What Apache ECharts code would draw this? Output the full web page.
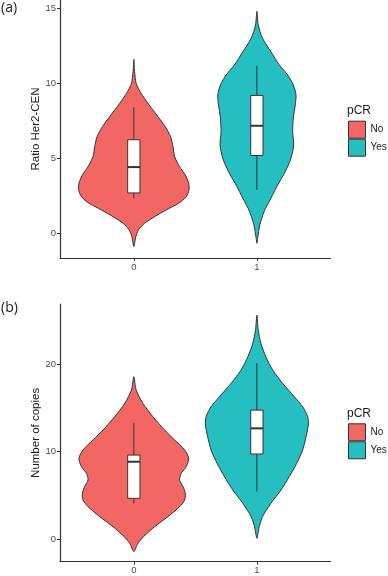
<!DOCTYPE html>
<html><head><meta charset="utf-8">
<script src="https://cdn.jsdelivr.net/npm/echarts@6/dist/echarts.min.js"></script>
<style>html,body{margin:0;padding:0;background:#fff}#c{width:388px;height:576px}</style>
</head><body><div id="c"></div>
<script>
// categories (x positions 1,2 shown as labels "0","1")
const categories = ['0', '1'];
const groups = ['No', 'Yes'];
const ticksA = [0, 5, 10, 15];
const ticksB = [0, 10, 20];

// violin profiles: [value, half-width in category units]
const violinA0 = [[-0.86,0],[-0.2,0.016],[0.25,0.038],[0.69,0.087],[1.13,0.169],[1.58,0.263],[2.02,0.364],[2.46,0.426],[2.9,0.448],[3.35,0.446],[3.9,0.418],[4.46,0.372],[5.12,0.332],[5.79,0.318],[6.45,0.299],[7.12,0.255],[7.79,0.196],[8.68,0.114],[9.34,0.059],[10.0,0.019],[10.8,0.006],[11.6,0]];
const violinA1 = [[-0.64,0],[-0.3,0.006],[0.58,0.024],[1.47,0.059],[2.36,0.114],[3.24,0.169],[4.13,0.231],[5.02,0.277],[5.9,0.299],[6.79,0.291],[7.68,0.296],[8.57,0.312],[9.23,0.318],[9.9,0.296],[10.56,0.25],[11.23,0.182],[12.11,0.114],[13.0,0.046],[13.89,0.011],[14.8,0]];
const violinB0 = [[-1.41,0],[-0.46,0.033],[0.3,0.079],[1.44,0.169],[2.58,0.277],[3.72,0.372],[4.48,0.413],[5.25,0.418],[6.0,0.4],[6.77,0.372],[7.53,0.385],[8.28,0.426],[9.24,0.446],[10.19,0.413],[11.33,0.332],[12.47,0.25],[13.99,0.155],[15.52,0.073],[17.03,0.019],[18.55,0]];
const violinB1 = [[0.11,0],[1.44,0.019],[2.58,0.046],[4.11,0.114],[5.62,0.196],[7.14,0.263],[8.67,0.324],[10.19,0.372],[11.71,0.4],[13.04,0.418],[13.99,0.413],[15.13,0.372],[16.27,0.304],[17.8,0.209],[19.32,0.128],[20.83,0.073],[22.36,0.033],[23.88,0.011],[25.59,0]];

// boxes: [x, whiskerLow, q1, median, q3, whiskerHigh]
const boxA0 = [1, 2.36, 2.71, 4.43, 6.25, 8.4];
const boxA1 = [2, 2.91, 5.2, 7.18, 9.2, 11.18];
const boxB0 = [1, 4.1, 4.67, 8.85, 9.61, 13.3];
const boxB1 = [2, 5.43, 9.73, 12.66, 14.74, 20.1];

const RED = '#F26763', TEAL = '#26BFC1', LINE = '#333333';
const BOXW = 0.05;

function violin(gi, center, prof, color, name) {
  return {
    type: 'custom', name, xAxisIndex: gi, yAxisIndex: gi,
    itemStyle: { color, borderColor: LINE, borderWidth: 1 },
    data: [[center, prof[0][0]]],
    z: 2,
    renderItem: function (params, api) {
      const right = prof.map(p => api.coord([center + p[1], p[0]]));
      const left = prof.slice(1, prof.length - 1).reverse().map(p => api.coord([center - p[1], p[0]]));
      return { type: 'polygon', shape: { points: right.concat(left), smooth: 0.25 },
        style: { fill: color, stroke: LINE, lineWidth: 1 } };
    }
  };
}
function box(gi, b) {
  return {
    type: 'custom', xAxisIndex: gi, yAxisIndex: gi, z: 3, silent: true,
    data: [b],
    renderItem: function (params, api) {
      const c = b[0];
      const p = (x, y) => api.coord([x, y]);
      const wl = p(c, b[1]), wh = p(c, b[5]);
      const q1l = p(c - BOXW, b[2]), q3r = p(c + BOXW, b[4]);
      const ml = p(c - BOXW, b[3]), mr = p(c + BOXW, b[3]);
      const q1c = p(c, b[2]), q3c = p(c, b[4]);
      return { type: 'group', children: [
        { type: 'line', shape: { x1: wl[0], y1: wl[1], x2: q1c[0], y2: q1c[1] }, style: { stroke: LINE, lineWidth: 1 } },
        { type: 'line', shape: { x1: q3c[0], y1: q3c[1], x2: wh[0], y2: wh[1] }, style: { stroke: LINE, lineWidth: 1 } },
        { type: 'rect', shape: { x: q1l[0], y: q3r[1], width: q3r[0] - q1l[0], height: q1l[1] - q3r[1] }, style: { fill: '#fff', stroke: LINE, lineWidth: 1 } },
        { type: 'line', shape: { x1: ml[0], y1: ml[1], x2: mr[0], y2: mr[1] }, style: { stroke: LINE, lineWidth: 2 } }
      ] };
    }
  };
}

const axisTick = { show: true, length: 3, lineStyle: { color: LINE } };
const tickLabel = { color: '#4d4d4d', fontSize: 9.5, fontFamily: 'Liberation Sans' };

function xAxis(gi) {
  return { type: 'value', gridIndex: gi, min: 0.4, max: 2.6, splitLine: { show: false },
    axisLine: { show: true, onZero: false, lineStyle: { color: LINE, width: 1.2 } },
    axisTick: Object.assign({ customValues: [1, 2] }, axisTick),
    axisLabel: Object.assign({ customValues: [1, 2], margin: 4, formatter: v => categories[Math.round(v) - 1] }, tickLabel) };
}
function yAxis(gi, min, max, ticks, name) {
  return { type: 'value', gridIndex: gi, min, max, splitLine: { show: false },
    axisLine: { show: true, onZero: false, lineStyle: { color: LINE, width: 1.2 } },
    axisTick: Object.assign({ customValues: ticks }, axisTick),
    axisLabel: Object.assign({ customValues: ticks, margin: 4 }, tickLabel),
    name, nameLocation: 'middle', nameGap: 18, nameMoveOverlap: false,
    nameTextStyle: { color: '#1a1a1a', fontSize: 11.5, fontFamily: 'Liberation Sans' } };
}

const chart = echarts.init(document.getElementById('c'), null, { renderer: 'canvas' });
chart.setOption({
  animation: false,
  grid: [
    { left: 60, right: 57.3, top: 0, bottom: 318 },
    { left: 60, right: 57.3, top: 304, bottom: 14.3 }
  ],
  xAxis: [xAxis(0), xAxis(1)],
  yAxis: [yAxis(0, -1.62, 15.55, ticksA, 'Ratio Her2-CEN'), yAxis(1, -2.56, 26.85, ticksB, 'Number of copies')],
  legend: [0, 1].map(i => ({
    data: groups, orient: 'vertical', left: 348, top: i === 0 ? 120.7 : 423.3, padding: 0,
    itemWidth: 17, itemHeight: 17, itemGap: 0, icon: 'rect', selectedMode: false,
    itemStyle: { borderColor: LINE, borderWidth: 1 },
    textStyle: { color: '#1a1a1a', fontSize: 10, fontFamily: 'Liberation Sans' }
  })),
  graphic: [
    { type: 'text', left: 1, top: 1, style: { text: '(a)', fontSize: 14, fill: '#1a1a2a', fontFamily: 'Open Sans' } },
    { type: 'text', left: 1, top: 301, style: { text: '(b)', fontSize: 14, fill: '#1a1a2a', fontFamily: 'Open Sans' } },
    { type: 'text', left: 347, top: 105, style: { text: 'pCR', fontSize: 12, fill: '#1a1a1a', fontFamily: 'Liberation Sans' } },
    { type: 'text', left: 347, top: 408, style: { text: 'pCR', fontSize: 12, fill: '#1a1a1a', fontFamily: 'Liberation Sans' } }
  ],
  series: [
    violin(0, 1, violinA0, RED, groups[0]), violin(0, 2, violinA1, TEAL, groups[1]),
    violin(1, 1, violinB0, RED, groups[0]), violin(1, 2, violinB1, TEAL, groups[1]),
    box(0, boxA0), box(0, boxA1), box(1, boxB0), box(1, boxB1)
  ]
});
</script></body></html>
